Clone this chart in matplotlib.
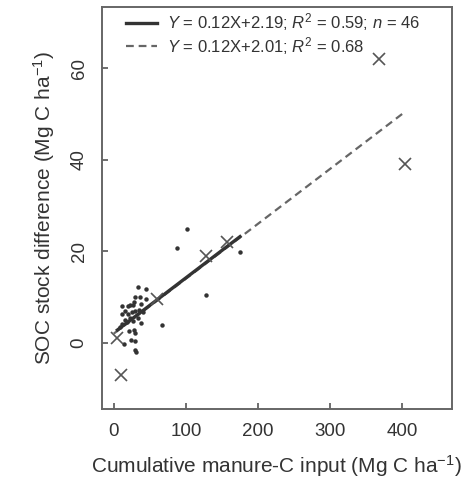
import numpy as np
import matplotlib.pyplot as plt

plt.rcParams['font.family'] = ['Liberation Sans', 'DejaVu Sans']
plt.rcParams['mathtext.fontset'] = 'custom'
plt.rcParams['mathtext.rm'] = 'Liberation Sans'
plt.rcParams['mathtext.it'] = 'Liberation Sans:italic'

# manure-C input vs SOC stock difference (dots)
dot_x = [34, 44, 29, 36, 44, 12, 20, 23, 27, 38, 11, 20, 25, 30, 16, 22, 38, 67,
         21, 28, 29, 24, 29, 14, 31, 30, 87, 102, 128, 175, 8, 12, 18, 26, 33, 35,
         40, 28, 15]
dot_y = [12.1, 11.8, 10.1, 10.1, 9.6, 8.0, 8.0, 8.2, 8.3, 8.5, 6.3, 6.4, 6.8, 7.0,
         5.0, 5.5, 4.3, 3.9, 2.6, 2.8, 2.2, 0.7, 0.3, -0.3, -2.0, -1.5, 20.7, 24.8,
         10.4, 19.8, 3.5, 4.0, 4.5, 4.8, 5.5, 7.2, 6.8, 9.0, 7.0]

# long-term points (crosses)
cross_x = [5, 10, 60, 128, 157, 368, 403]
cross_y = [1.0, -7.0, 9.5, 19.0, 22.0, 62.0, 39.0]

# regressions
fit1 = (0.12, 2.19)
fit2 = (0.12, 2.01)
fit1_range = [5, 175]
fit2_range = [0, 405]

fig = plt.figure(figsize=(4.7, 4.82), dpi=100)
ax = fig.add_axes([0.216, 0.152, 0.746, 0.834])

xs = np.array(fit2_range)
ax.plot(xs, fit2[0] * xs + fit2[1], color='#666666', lw=1.6, ls=(0, (3.5, 2.2)),
        label=r'$\it{Y}$ = 0.12X+2.01; $\it{R}^2$ = 0.68')
xs = np.array(fit1_range)
ax.plot(xs, fit1[0] * xs + fit1[1], color='#333333', lw=2.4,
        label=r'$\it{Y}$ = 0.12X+2.19; $\it{R}^2$ = 0.59; $\it{n}$ = 46')

ax.plot(dot_x, dot_y, 'o', color='#333333', ms=3.2, mew=0, zorder=3)
ax.plot(cross_x, cross_y, 'x', color='#555555', ms=8, mew=1.2, zorder=3)

ax.set_xlim(-17, 469)
ax.set_ylim(-14.4, 73.4)
ax.set_xticks([0, 100, 200, 300, 400])
ax.set_yticks([0, 20, 40, 60])
ax.tick_params(direction='in', length=4, width=1.2, color='#555555',
               labelsize=13.5, labelcolor='#333333', pad=10)
for lab in ax.get_yticklabels():
    lab.set_rotation(90)
    lab.set_va('center')
for s in ax.spines.values():
    s.set_color('#666666')
    s.set_linewidth(1.4)

ax.set_xlabel(r'Cumulative manure-C input (Mg C ha$^{-1}$)', fontsize=15,
              color='#333333', labelpad=10)
ax.set_ylabel(r'SOC stock difference (Mg C ha$^{-1}$)', fontsize=15,
              color='#333333', labelpad=10)

h, l = ax.get_legend_handles_labels()
ax.legend(h[::-1], l[::-1], loc='upper left', frameon=False, fontsize=12,
          handlelength=1.9, handletextpad=0.6, borderaxespad=0.0,
          labelspacing=0.1, bbox_to_anchor=(0.05, 1.005), labelcolor='#333333')

fig.savefig('out.png', dpi=100)
